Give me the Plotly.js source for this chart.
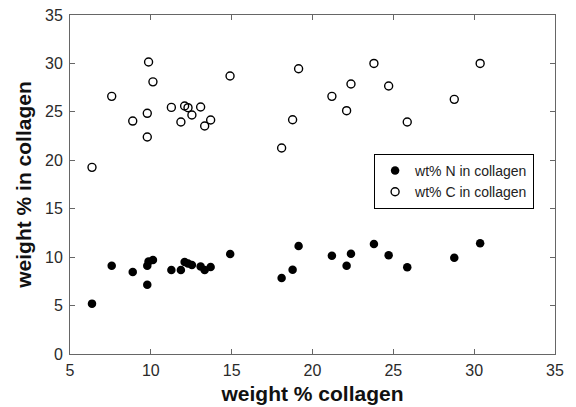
<!DOCTYPE html>
<html>
<head>
<meta charset="utf-8">
<script src="https://cdn.plot.ly/plotly-3.0.1.min.js"></script>
<style>html,body{margin:0;padding:0;background:#fff}#chart{width:576px;height:407px}</style>
</head>
<body>
<div id="chart"></div>
<script>
const collagenN = [6.36, 7.58, 8.88, 9.78, 9.78, 9.86, 10.13, 11.27, 11.86, 12.09, 12.30, 12.54, 13.08, 13.33, 13.70, 14.91, 18.09, 18.77, 19.14, 21.2, 22.11, 22.38, 23.80, 24.71, 25.86, 28.77, 30.37];
const nInCollagen = [5.2, 9.12, 8.47, 7.16, 9.12, 9.56, 9.7, 8.67, 8.67, 9.5, 9.35, 9.19, 9.04, 8.67, 8.98, 10.32, 7.85, 8.7, 11.15, 10.15, 9.12, 10.35, 11.36, 10.19, 8.95, 9.94, 11.43];
const collagenC = [6.36, 7.58, 8.88, 9.78, 9.78, 9.86, 10.13, 11.27, 11.86, 12.09, 12.30, 12.54, 13.08, 13.33, 13.70, 14.90, 18.09, 18.77, 19.14, 21.2, 22.11, 22.38, 23.80, 24.71, 25.86, 28.77, 30.37];
const cInCollagen = [19.27, 26.6, 24.05, 22.4, 24.85, 30.15, 28.1, 25.46, 23.95, 25.6, 25.43, 24.67, 25.5, 23.54, 24.16, 28.7, 21.27, 24.19, 29.45, 26.6, 25.12, 27.88, 30.0, 27.67, 23.95, 26.29, 30.0];
const seriesNames = ["wt% N in collagen", "wt% C in collagen"];
const xTicks = [5, 10, 15, 20, 25, 30, 35];
const yTicks = [0, 5, 10, 15, 20, 25, 30, 35];

const font = "Liberation Sans, Arial, Helvetica, sans-serif";
const traces = [
  {x: collagenN, y: nInCollagen, name: seriesNames[0], type: "scatter", mode: "markers",
   marker: {symbol: "circle", size: 8.5, color: "#000", line: {width: 0}}},
  {x: collagenC, y: cInCollagen, name: seriesNames[1], type: "scatter", mode: "markers",
   marker: {symbol: "circle-open", size: 8, color: "#000", line: {width: 1.4, color: "#000"}}}
];
const axisCommon = {
  showgrid: false, zeroline: false, showline: true, linecolor: "#666", linewidth: 1,
  mirror: "ticks", ticks: "inside", ticklen: 5, tickcolor: "#666",
  tickfont: {family: font, size: 16, color: "#2a2a2a"}
};
const layout = {
  width: 576, height: 407,
  margin: {l: 70, r: 21, t: 15, b: 53},
  paper_bgcolor: "#fff", plot_bgcolor: "#fff",
  showlegend: true,
  xaxis: Object.assign({}, axisCommon, {range: [5, 35], tickvals: xTicks, ticklabelstandoff: 2,
    title: {text: "<b>weight % collagen</b>", font: {family: font, size: 21, color: "#111"}, standoff: 8}}),
  yaxis: Object.assign({}, axisCommon, {range: [0, 35], tickvals: yTicks, ticklabelstandoff: 3,
    title: {text: "<b>weight % in collagen</b>", font: {family: font, size: 21, color: "#111"}, standoff: 7}}),
  legend: {x: 0.627, y: 0.59, xanchor: "left", yanchor: "top", bgcolor: "#fff",
    bordercolor: "#000", borderwidth: 1, font: {family: font, size: 14, color: "#222"},
    tracegroupgap: 0, itemwidth: 30}
};
Plotly.newPlot("chart", traces, layout, {displayModeBar: false, staticPlot: true});
</script>
</body>
</html>
